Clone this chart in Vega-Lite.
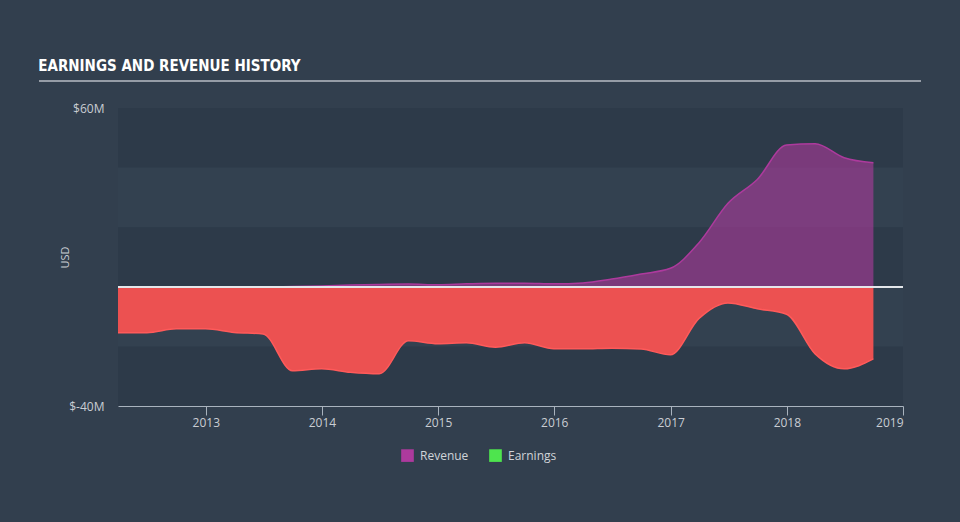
{
  "$schema": "https://vega.github.io/schema/vega-lite/v6.json",
  "background": "#323f4e",
  "padding": {"left": 38, "top": 59, "right": 38, "bottom": 60},
  "config": {"view": {"stroke": null}, "font": "Open Sans"},
  "spacing": 20,
  "datasets": {
    "history": [
      {"date": "2012-03-31", "revenue": 0.0, "earnings": -15.4},
      {"date": "2012-06-30", "revenue": 0.0, "earnings": -15.4},
      {"date": "2012-09-30", "revenue": 0.0, "earnings": -14.1},
      {"date": "2012-12-31", "revenue": 0.0, "earnings": -14.1},
      {"date": "2013-03-31", "revenue": 0.0, "earnings": -15.3},
      {"date": "2013-06-30", "revenue": 0.0, "earnings": -15.8},
      {"date": "2013-09-30", "revenue": 0.1, "earnings": -28.2},
      {"date": "2013-12-31", "revenue": 0.3, "earnings": -27.5},
      {"date": "2014-03-31", "revenue": 0.6, "earnings": -28.7},
      {"date": "2014-06-30", "revenue": 0.8, "earnings": -29.2},
      {"date": "2014-09-30", "revenue": 0.9, "earnings": -18.1},
      {"date": "2014-12-31", "revenue": 0.7, "earnings": -19.1},
      {"date": "2015-03-31", "revenue": 1.0, "earnings": -18.8},
      {"date": "2015-06-30", "revenue": 1.2, "earnings": -20.3},
      {"date": "2015-09-30", "revenue": 1.2, "earnings": -18.8},
      {"date": "2015-12-31", "revenue": 1.0, "earnings": -20.8},
      {"date": "2016-03-31", "revenue": 1.3, "earnings": -20.8},
      {"date": "2016-06-30", "revenue": 2.6, "earnings": -20.6},
      {"date": "2016-09-30", "revenue": 4.3, "earnings": -20.9},
      {"date": "2016-12-31", "revenue": 6.2, "earnings": -22.8},
      {"date": "2017-03-31", "revenue": 14.8, "earnings": -10.6},
      {"date": "2017-06-30", "revenue": 28.0, "earnings": -5.4},
      {"date": "2017-09-30", "revenue": 36.0, "earnings": -7.4},
      {"date": "2017-12-31", "revenue": 47.6, "earnings": -9.2},
      {"date": "2018-03-31", "revenue": 48.0, "earnings": -22.5},
      {"date": "2018-06-30", "revenue": 43.3, "earnings": -27.5},
      {"date": "2018-09-30", "revenue": 41.6, "earnings": -24.2}
    ]
  },
  "vconcat": [
    {
      "width": 803,
      "height": 1,
      "title": {
        "text": "EARNINGS AND REVENUE HISTORY",
        "anchor": "start",
        "frame": "bounds",
        "font": "'DejaVu Sans Condensed', 'Liberation Sans Narrow', sans-serif",
        "fontSize": 15,
        "fontWeight": "bold",
        "color": "#ffffff",
        "offset": 6
      },
      "data": {"values": [{}]},
      "mark": {"type": "rule", "color": "#b8bec6", "strokeWidth": 1.5},
      "encoding": {
        "x": {"datum": 0, "type": "quantitative", "scale": {"domain": [0, 1]}, "axis": null},
        "x2": {"datum": 1},
        "y": {
          "datum": 0,
          "type": "quantitative",
          "scale": {"domain": [0, 1]},
          "axis": {
            "values": [0],
            "title": null,
            "domain": false,
            "labels": false,
            "grid": false,
            "ticks": true,
            "tickSize": 79,
            "tickWidth": 1.5,
            "tickColor": "#b8bec6",
            "translate": 0
          }
        }
      }
    },
    {
      "width": 785,
      "height": 298,
      "view": {"fill": "#334150", "stroke": null},
      "data": {"name": "history"},
      "layer": [
        {
          "data": {"values": [{"lo": 40, "hi": 60}, {"lo": 0, "hi": 20}, {"lo": -40, "hi": -20}]},
          "mark": {"type": "rect", "color": "#2d3a49"},
          "encoding": {
            "y": {
              "field": "lo",
              "type": "quantitative",
              "title": "USD",
              "scale": {"domain": [-40, 60], "nice": false, "zero": false},
              "axis": {
                "values": [-40, 60],
                "labelExpr": "'$' + datum.value + 'M'",
                "domain": false,
                "grid": false,
                "ticks": false,
                "labelPadding": 14,
                "labelColor": "#c9cdd3",
                "labelFontSize": 12,
                "labelBaseline": "middle",
                "titleX": -48,
                "titleColor": "#c9cdd3",
                "titleFontSize": 11,
                "titleFontWeight": "normal"
              }
            },
            "y2": {"field": "hi"}
          }
        },
        {
          "mark": {"type": "area", "interpolate": "monotone", "color": "#ec5151", "opacity": 1, "fillOpacity": 1, "line": {"color": "#ff5a5a", "strokeWidth": 1.5}},
          "encoding": {
            "x": {
              "field": "date",
              "type": "temporal",
              "title": null,
              "scale": {"type": "utc", "domain": [{"year": 2012, "month": 3, "date": 31, "utc": true}, {"year": 2019, "month": 1, "date": 1, "utc": true}]},
              "axis": {
                "format": "%Y",
                "tickCount": "year",
                "grid": false,
                "domainColor": "#a9b3be",
                "tickColor": "#a9b3be",
                "tickSize": 9,
                "labelPadding": 2,
                "labelColor": "#c9cdd3",
                "labelFontSize": 12
              }
            },
            "y": {"field": "earnings", "type": "quantitative", "title": "USD"}
          }
        },
        {
          "mark": {"type": "area", "interpolate": "monotone", "opacity": 1, "fillOpacity": 0.6, "line": {"strokeWidth": 1.5}},
          "encoding": {
            "x": {"field": "date", "type": "temporal", "title": null},
            "y": {"field": "revenue", "type": "quantitative", "title": "USD"},
            "color": {
              "datum": "Revenue",
              "type": "nominal",
              "scale": {"domain": ["Revenue", "Earnings"], "range": ["#ad3a9d", "#4ee44e"]},
              "legend": {
                "orient": "none",
                "legendX": 283,
                "legendY": 369,
                "direction": "horizontal",
                "title": null,
                "symbolType": "square",
                "symbolSize": 160,
                "symbolOpacity": 1,
                "symbolStrokeWidth": 0,
                "labelFontSize": 12,
                "labelColor": "#d0d4d8",
                "columnPadding": 20,
                "labelOffset": 6
              }
            }
          }
        },
        {
          "mark": {"type": "rule", "color": "#e4e7eb", "strokeWidth": 1},
          "encoding": {"y": {"datum": 0, "type": "quantitative", "title": "USD"}}
        }
      ]
    }
  ]
}
